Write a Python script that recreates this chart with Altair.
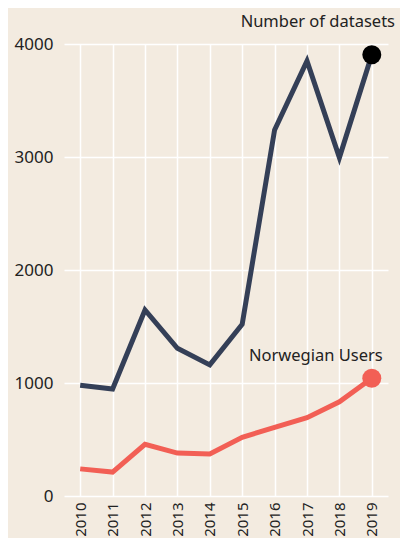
import altair as alt
import pandas as pd

years = ["2010", "2011", "2012", "2013", "2014", "2015", "2016", "2017", "2018", "2019"]
datasets = [980, 947, 1646, 1307, 1160, 1520, 3240, 3850, 2995, 3905]
users = [240, 212, 457, 380, 371, 519, 607, 693, 833, 1042]
series_names = ["Number of datasets", "Norwegian Users"]
y_ticks = [0, 1000, 2000, 3000, 4000]

line_colors = ["#343f57", "#f25f55"]
point_colors = ["#000000", "#f25f55"]

rows = []
for y, v in zip(years, datasets):
    rows.append({"year": y, "value": v, "series": series_names[0]})
for y, v in zip(years, users):
    rows.append({"year": y, "value": v, "series": series_names[1]})
df = pd.DataFrame(rows)

last = pd.DataFrame([
    {"year": years[-1], "value": datasets[-1], "series": series_names[0]},
    {"year": years[-1], "value": users[-1], "series": series_names[1]},
])

font = "Noto Sans"

x = alt.X("year:O", title=None,
          scale=alt.Scale(type="point", padding=0.5),
          axis=alt.Axis(labelAngle=-90, labelFontSize=15, labelPadding=6,
                        labelColor="#222222", labelFont=font, domain=False,
                        ticks=False, grid=True, gridColor="#ffffff", gridWidth=1.5,
                        labelBaseline="middle", labelAlign="right"))
y = alt.Y("value:Q", title=None,
          scale=alt.Scale(domain=[0, 4000], nice=False),
          axis=alt.Axis(values=y_ticks, format="d", labelFontSize=17, labelPadding=11,
                        labelColor="#222222", labelFont=font, domain=False,
                        ticks=False, grid=True, gridColor="#ffffff", gridWidth=1.5))

lines = alt.Chart(df).mark_line(strokeWidth=5, strokeJoin="miter").encode(
    x=x, y=y,
    color=alt.Color("series:N", scale=alt.Scale(domain=series_names, range=line_colors), legend=None),
)

points = alt.Chart(last).mark_point(filled=True, size=360, opacity=1).encode(
    x="year:O", y="value:Q",
    color=alt.Color("series:N", scale=alt.Scale(domain=series_names, range=point_colors), legend=None),
)

label_ds = alt.Chart(last[last["series"] == series_names[0]]).mark_text(
    align="center", baseline="alphabetic", dx=-54, dy=-28, fontSize=16.5, font=font, color="#222222"
).encode(x="year:O", y="value:Q", text="series:N")

label_us = alt.Chart(last[last["series"] == series_names[1]]).mark_text(
    align="center", baseline="alphabetic", dx=-56, dy=-17, fontSize=16.5, font=font, color="#222222"
).encode(x="year:O", y="value:Q", text="series:N")

chart = alt.layer(lines, points, label_ds, label_us).resolve_scale(color="independent").properties(
    width=324, height=452,
    autosize=alt.AutoSizeParams(type="none"),
    padding={"left": 56, "top": 36, "right": 12, "bottom": 42},
    background="#f3ebe0",
).configure_view(stroke=None)

chart.save("out.html", embed_options={"renderer": "svg", "actions": False})
